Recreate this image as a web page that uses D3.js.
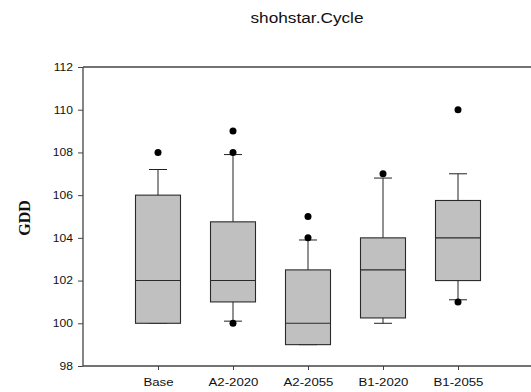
<!DOCTYPE html>
<html>
<head>
<meta charset="utf-8">
<script src="https://cdn.jsdelivr.net/npm/d3@7"></script>
<style>
  html, body { margin: 0; padding: 0; background: #fff; }
  svg { display: block; }
</style>
</head>
<body>
<svg id="chart" width="531" height="392"></svg>
<script>
// Box plot summaries of GDD per scenario
const categories = ["Base", "A2-2020", "A2-2055", "B1-2020", "B1-2055"];
const q1 = [100, 101, 99, 100.25, 102];
const median = [102, 102, 100, 102.5, 104];
const q3 = [106, 104.75, 102.5, 104, 105.75];
const whiskerLow = [100, 100.1, 99, 100, 101.1];
const whiskerHigh = [107.2, 107.9, 103.9, 106.8, 107];
const outliers = [[108], [100, 108, 109], [104, 105], [107], [101, 110]];
const yTicks = [98, 100, 102, 104, 106, 108, 110, 112];

const title = "shohstar.Cycle";
const yTitle = "GDD";

const svg = d3.select("#chart");
const plotL = 83, plotR = 533, plotT = 67, plotB = 366;
const stretch = "scale(1.15,1)";

const x = d3.scalePoint().domain(categories).range([plotL, plotR]).padding(1);
const y = d3.scaleLinear().domain([98, 112]).range([plotB, plotT]);

const boxW = 45, capW = 18;
const axisColor = "#444";
const data = categories.map((c, i) => ({
  c, q1: q1[i], med: median[i], q3: q3[i],
  lo: whiskerLow[i], hi: whiskerHigh[i], out: outliers[i]
}));

// frame top line
svg.append("line")
  .attr("x1", plotL).attr("x2", 531)
  .attr("y1", y(112)).attr("y2", y(112))
  .attr("stroke", axisColor).attr("stroke-width", 1.3);

const g = svg.append("g").selectAll("g").data(data).join("g")
  .attr("transform", d => `translate(${x(d.c)},0)`);

// whiskers
g.append("line").attr("x1", 0).attr("x2", 0)
  .attr("y1", d => y(d.q3)).attr("y2", d => y(d.hi))
  .attr("stroke", "#222").attr("stroke-width", 1);
g.append("line").attr("x1", 0).attr("x2", 0)
  .attr("y1", d => y(d.q1)).attr("y2", d => y(d.lo))
  .attr("stroke", "#222").attr("stroke-width", 1);
g.append("line").attr("x1", -capW / 2).attr("x2", capW / 2)
  .attr("y1", d => y(d.hi)).attr("y2", d => y(d.hi))
  .attr("stroke", "#222").attr("stroke-width", 1);
g.append("line").attr("x1", -capW / 2).attr("x2", capW / 2)
  .attr("y1", d => y(d.lo)).attr("y2", d => y(d.lo))
  .attr("stroke", "#222").attr("stroke-width", 1);

// boxes
g.append("rect")
  .attr("x", -boxW / 2).attr("width", boxW)
  .attr("y", d => y(d.q3)).attr("height", d => y(d.q1) - y(d.q3))
  .attr("fill", "#c0c0c0").attr("stroke", "#2a2a2a").attr("stroke-width", 1.1);
g.append("line").attr("x1", -boxW / 2).attr("x2", boxW / 2)
  .attr("y1", d => y(d.med)).attr("y2", d => y(d.med))
  .attr("stroke", "#2a2a2a").attr("stroke-width", 1.1);

// outliers
g.selectAll("circle").data(d => d.out).join("circle")
  .attr("cx", 0).attr("cy", v => y(v)).attr("r", 3.5).attr("fill", "#000");

// axes
const yAxis = d3.axisLeft(y).tickValues(yTicks).tickSize(5).tickPadding(5);
const ya = svg.append("g").attr("transform", `translate(${plotL},0)`).call(yAxis);
const xAxis = d3.axisBottom(x).tickSize(4).tickPadding(8).tickSizeOuter(0);
const xa = svg.append("g").attr("transform", `translate(0,${plotB})`).call(xAxis);
[ya, xa].forEach(a => {
  a.select(".domain").attr("stroke", axisColor).attr("stroke-width", 1.3);
  a.selectAll(".tick line").attr("stroke", axisColor);
  a.selectAll(".tick text").attr("fill", "#111")
    .attr("font-family", "'Liberation Sans', Arial, sans-serif")
    .attr("transform", stretch);
});
ya.select(".domain").attr("d", `M0,${plotB}V${plotT}`);
xa.select(".domain").attr("d", `M${plotL},0H531`);
ya.selectAll(".tick text").attr("font-size", 10.5).attr("x", -8.7);
xa.selectAll(".tick text").attr("font-size", 11.5);

// title
svg.append("text")
  .attr("transform", `translate(307,23) ${stretch}`)
  .attr("text-anchor", "middle")
  .attr("font-family", "'Liberation Sans', Arial, sans-serif")
  .attr("font-size", 15).attr("fill", "#111")
  .text(title);

// y axis title
svg.append("text")
  .attr("transform", "translate(30,218) rotate(-90)")
  .attr("text-anchor", "middle")
  .attr("font-family", "'Liberation Serif', 'Times New Roman', serif")
  .attr("font-weight", "bold")
  .attr("font-size", 16).attr("fill", "#111")
  .text(yTitle);
</script>
</body>
</html>
